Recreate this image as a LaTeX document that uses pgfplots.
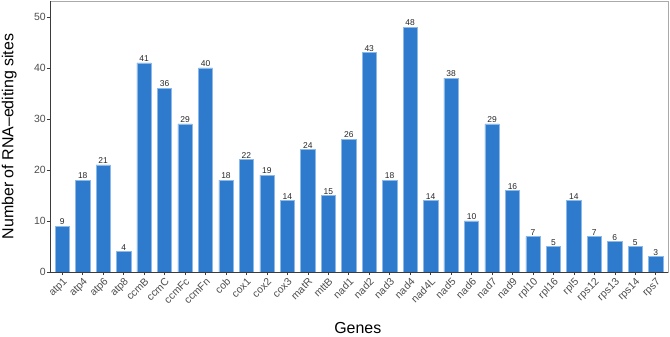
\documentclass[border=0pt]{standalone}
\usepackage{fontspec}
\setmainfont{Liberation Sans}
\usepackage{pgfplots}
\pgfplotsset{compat=1.18}
\definecolor{barblue}{RGB}{46,123,206}
\definecolor{baredge}{RGB}{140,185,232}
\definecolor{tickgray}{RGB}{77,77,77}
\definecolor{framegray}{RGB}{170,170,170}
\definecolor{axisgray}{RGB}{60,60,60}

\pgfplotstableread{
x n
1 9
2 18
3 21
4 4
5 41
6 36
7 29
8 40
9 18
10 22
11 19
12 14
13 24
14 15
15 26
16 43
17 18
18 48
19 14
20 38
21 10
22 29
23 16
24 7
25 5
26 14
27 7
28 6
29 5
30 3
}\editsites

\begin{document}
\begin{tikzpicture}
\path[use as bounding box] (0,0) rectangle (670bp,337bp);
\begin{axis}[
  at={(50bp,65bp)}, anchor=south west,
  scale only axis, width=618bp, height=271bp,
  xmin=0.4, xmax=30.6, ymin=0, ymax=53.1,
  ybar, bar width=14.3bp,
  axis line style={draw=framegray, line width=0.8bp},
  xtick={1,...,30},
  xticklabels={atp1,atp4,atp6,atp8,ccmB,ccmC,ccmFc,ccmFn,cob,cox1,cox2,cox3,matR,mttB,nad1,nad2,nad3,nad4,nad4L,nad5,nad6,nad7,nad9,rpl10,rpl16,rpl5,rps12,rps13,rps14,rps7},
  ytick={0,10,20,30,40,50},
  tick align=outside,
  major tick length=3bp,
  tick style={draw=axisgray, line width=0.6bp},
  xtick pos=bottom, ytick pos=left,
  /pgf/number format/assume math mode=true,
  xticklabel style={rotate=45, anchor=north east, font=\fontsize{10.5}{10.5}\selectfont, text=tickgray, inner sep=1.5bp},
  yticklabel style={font=\fontsize{10.5}{10.5}\selectfont, text=tickgray, inner sep=1bp},
  xlabel={Genes},
  ylabel={Number of RNA–editing sites},
  every axis x label/.style={at={(axis description cs:0.498,-0.2066)}, anchor=center, font=\fontsize{16}{16}\selectfont},
  every axis y label/.style={at={(axis description cs:-0.066,0.5)}, rotate=90, anchor=center, font=\fontsize{16}{16}\selectfont},
  nodes near coords,
  every node near coord/.append style={font=\fontsize{8.5}{8.5}\selectfont, text=black!85, inner sep=1bp, anchor=south},
  clip=false,
]
\addplot[fill=barblue, draw=baredge, line width=0.5bp] table[x=x, y=n] {\editsites};
\draw[axisgray, line width=0.8bp] (rel axis cs:0,1) -- (rel axis cs:0,0) -- (rel axis cs:1,0);
\end{axis}
\end{tikzpicture}
\end{document}
